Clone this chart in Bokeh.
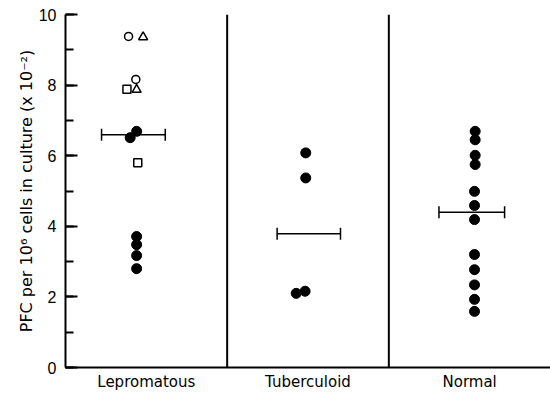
from bokeh.plotting import figure
from bokeh.models import Range1d, SingleIntervalTicker, FixedTicker, Span
from bokeh.embed import file_html
from bokeh.resources import INLINE

categories = ["Lepromatous", "Tuberculoid", "Normal"]
y_ticks = [0, 2, 4, 6, 8, 10]

# Filled circles (x in group units: group i spans i..i+1)
filled_x = [0.44, 0.40, 0.44, 0.44, 0.44, 0.44,
            1.486, 1.486, 1.482, 1.427,
            2.534, 2.534, 2.534, 2.534, 2.53, 2.53, 2.53, 2.53, 2.53, 2.53, 2.53, 2.53]
filled_y = [6.69, 6.51, 3.71, 3.48, 3.17, 2.80,
            6.08, 5.37, 2.16, 2.10,
            6.69, 6.45, 6.01, 5.75, 4.99, 4.59, 4.19, 3.20, 2.77, 2.34, 1.93, 1.59]

# Open symbols (Lepromatous only)
open_circle_x = [0.39, 0.435]
open_circle_y = [9.38, 8.16]
open_tri_x = [0.48, 0.44]
open_tri_y = [9.36, 7.87]
open_square_x = [0.38, 0.447]
open_square_y = [7.88, 5.80]

# Group means
mean_x = [0.42, 1.505, 2.513]
mean_half_width = [0.197, 0.196, 0.203]
mean_y = [6.59, 3.79, 4.40]

p = figure(width=550, height=394, output_backend="svg", toolbar_location=None,
           x_range=Range1d(0, len(categories)), y_range=Range1d(0, 10),
           min_border_left=65, min_border_right=0, min_border_top=14, min_border_bottom=27)
p.outline_line_color = None
p.grid.visible = False
p.background_fill_color = "white"

# Y axis
ya = p.yaxis[0]
ya.ticker = SingleIntervalTicker(interval=2, num_minor_ticks=2)
ya.major_tick_in = 12
ya.major_tick_out = 0
ya.minor_tick_in = 8
ya.minor_tick_out = 0
ya.axis_line_width = 2
ya.major_tick_line_width = 2
ya.minor_tick_line_width = 2
ya.major_label_text_font = "Liberation Sans"
ya.major_label_text_font_size = "16px"
ya.major_label_text_color = "black"
ya.major_label_standoff = 9
ya.axis_label = "PFC per 10\u2076 cells in culture (x 10\u207b\u00b2)"
ya.axis_label_text_font = "DejaVu Sans"
ya.axis_label_text_font_style = "normal"
ya.axis_label_text_font_size = "16px"
ya.axis_label_text_color = "black"
ya.axis_label_standoff = 0

# X axis
xa = p.xaxis[0]
xa.ticker = FixedTicker(ticks=[i + 0.5 for i in range(len(categories))])
xa.major_label_overrides = {i + 0.5: c for i, c in enumerate(categories)}
xa.major_tick_in = 0
xa.major_tick_out = 0
xa.minor_tick_in = 0
xa.minor_tick_out = 0
xa.axis_line_width = 2
xa.major_label_text_font = "DejaVu Sans"
xa.major_label_text_font_size = "15px"
xa.major_label_text_color = "black"
xa.major_label_standoff = 5

# Dividers between groups
for i in range(1, len(categories)):
    p.add_layout(Span(location=i, dimension="height", line_color="black", line_width=2))

# Points
p.scatter(filled_x, filled_y, marker="circle", size=10, fill_color="black", line_color="black")
p.scatter(open_circle_x, open_circle_y, marker="circle", size=8, fill_color="white",
          line_color="black", line_width=1.5)
p.scatter(open_tri_x, open_tri_y, marker="triangle", size=9, fill_color="white",
          line_color="black", line_width=1.5)
p.scatter(open_square_x, open_square_y, marker="square", size=8, fill_color="white",
          line_color="black", line_width=1.5)

# Mean bars
x0 = [m - h for m, h in zip(mean_x, mean_half_width)]
x1 = [m + h for m, h in zip(mean_x, mean_half_width)]
p.segment(x0=x0, y0=mean_y, x1=x1, y1=mean_y, line_color="black", line_width=1.5)
p.segment(x0=x0, y0=[y - 0.17 for y in mean_y], x1=x0, y1=[y + 0.17 for y in mean_y],
          line_color="black", line_width=1.5)
p.segment(x0=x1, y0=[y - 0.17 for y in mean_y], x1=x1, y1=[y + 0.17 for y in mean_y],
          line_color="black", line_width=1.5)

open("out.html", "w").write(file_html(p, INLINE))
